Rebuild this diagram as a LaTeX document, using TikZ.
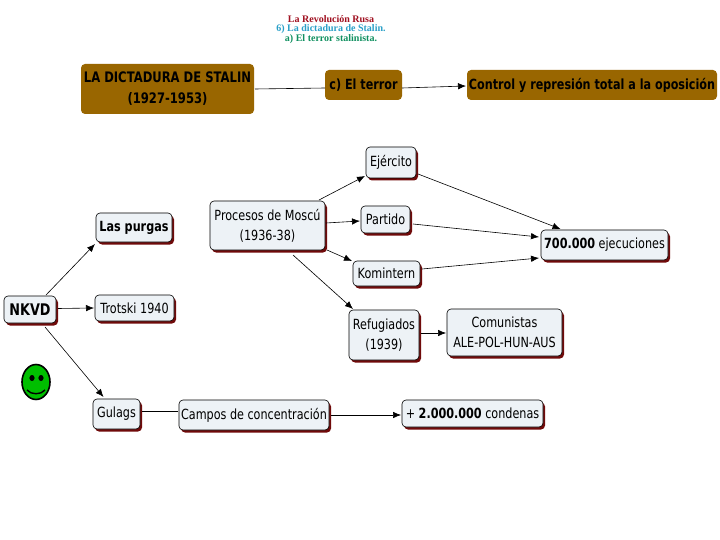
\documentclass[tikz,border=0pt]{standalone}
\usepackage{fontspec}
\setmainfont{Liberation Serif}
\newfontfamily\boxfont[FakeStretch=0.8]{DejaVu Sans}
\usetikzlibrary{shadows,arrows.meta,calc,shapes.geometric}
\definecolor{boxfill}{HTML}{EDF2F6}
\definecolor{shade}{HTML}{700A0A}
\definecolor{brown}{HTML}{996600}
\definecolor{t1}{HTML}{A01020}
\definecolor{t2}{HTML}{2AA0C8}
\definecolor{t3}{HTML}{109060}
\tikzset{
  x=1pt,y=-1pt,
  cbox/.style={draw=black,line width=0.6pt,fill=boxfill,rounded corners=4pt,align=center,
    font=\boxfont\fontsize{14}{20}\selectfont,inner sep=0pt,outer sep=0pt,
    general shadow={fill=shade,shadow xshift=2pt,shadow yshift=-2.5pt}},
  bbox/.style={fill=brown,rounded corners=4pt,align=center,text=black,
    font=\boxfont\bfseries\fontsize{14.5}{21}\selectfont,inner sep=0pt,outer sep=0pt},
  conn/.style={draw=black,line width=0.6pt},
  arr/.style={conn,-{Latex[length=8pt,width=6.5pt]}},
  ttl/.style={font=\bfseries\fontsize{10}{10}\selectfont,inner sep=0pt},
}
\newcommand{\pbox}[7]{% style name x1 y1 x2 y2 text
  \node[#1,minimum width=#5pt-#3pt,minimum height=#6pt-#4pt] (#2) at ({(#3+#5)/2},{(#4+#6)/2}) {#7};}
\begin{document}
\begin{tikzpicture}
\useasboundingbox (0,0) rectangle (720,540);
\fill[white] (0,0) rectangle (720,540);
\node[ttl,text=t1] (title1) at (331,19) {La Revolución Rusa};
\node[ttl,text=t2] (title2) at (331,29) {6) La dictadura de Stalin.};
\node[ttl,text=t3] (title3) at (331,39) {a) El terror stalinista.};
\pbox{bbox}{dict}{81}{64}{254}{114}{LA DICTADURA DE STALIN\\(1927-1953)}
\pbox{bbox}{terror}{325}{70}{402}{100}{\fontsize{14}{20}\selectfont c) El terror}
\pbox{bbox}{control}{467}{70}{717}{100}{\fontsize{14}{20}\selectfont Control y represión total a la oposición}
\pbox{cbox}{ejer}{366}{147}{416}{178}{Ejército}
\pbox{cbox}{part}{361}{206}{410}{233}{Partido}
\pbox{cbox}{proc}{210}{201}{325}{250}{Procesos de Moscú\\(1936-38)}
\pbox{cbox}{komi}{353}{261}{420}{286}{Komintern}
\pbox{cbox}{refu}{349}{310}{419}{360}{Refugiados\\(1939)}
\pbox{cbox}{ejec}{541}{230}{668}{260}{\textbf{700.000} ejecuciones}
\pbox{cbox}{comu}{447}{309}{562}{356}{Comunistas\\ALE-POL-HUN-AUS}
\pbox{cbox}{purg}{96}{213}{172}{242}{\textbf{Las purgas}}
\pbox{cbox}{nkvd}{4}{296}{56}{323}{\textbf{\fontsize{16}{19}\selectfont NKVD}}
\pbox{cbox}{trot}{95}{295}{174}{321}{Trotski 1940}
\pbox{cbox}{gula}{93}{399}{140}{429}{Gulags}
\pbox{cbox}{camp}{179}{400}{329}{430}{Campos de concentración}
\pbox{cbox}{cond}{402}{400}{543}{427}{+ \textbf{2.000.000} condenas}
% smiley
\node[draw=black,line width=1.6pt,fill=green!75!black,ellipse,minimum width=28pt,minimum height=35pt,inner sep=0pt] (smile) at (36,382) {};
\fill[black] (32,378) ellipse (2.6 and 3);
\fill[black] (41,378) ellipse (2.6 and 3);
\draw[black,line width=1.4pt] (27,390) .. controls (31,395) and (41,395) .. (45,390);
% connectors
\draw[conn] ($(dict.east)+(1,0)$) -- ($(terror.west)+(0,3)$);
\draw[arr] ($(terror.east)+(0,3)$) -- ($(control.west)+(-1,1)$);
\draw[arr] ($(nkvd.north)+(16,-1)$) -- ($(purg.south west)+(-1,2)$);
\draw[arr] ($(nkvd.east)+(2,-1)$) -- ($(trot.west)+(-1,0)$);
\draw[arr] ($(nkvd.south)+(15,4)$) -- ($(gula.north)+(-13,-2)$);
\draw[arr] ($(proc.north)+(51.5,-1)$) -- ($(ejer.west)+(-1,13.5)$);
\draw[arr] ($(proc.east)+(1,-2.5)$) -- ($(part.west)+(-1,1.5)$);
\draw[arr] ($(proc.south east)+(2,0)$) -- ($(komi.north west)+(-1,0)$);
\draw[arr] ($(proc.south)+(25.5,5)$) -- ($(refu.north)+(-31,-1)$);
\draw[arr] ($(ejer.east)+(2,11.5)$) -- ($(ejec.north)+(-44,-1)$);
\draw[arr] ($(part.east)+(3,4.5)$) -- ($(ejec.west)+(-2,-8)$);
\draw[arr] ($(komi.east)+(2,-4.5)$) -- ($(ejec.west)+(-2,13)$);
\draw[arr] ($(refu.east)+(2,-2)$) -- ($(comu.west)+(-1,0.5)$);
\draw[conn] ($(gula.east)+(2,-3)$) -- ($(camp.west)+(-1,-4)$);
\draw[arr] ($(camp.east)+(2,0)$) -- ($(cond.west)+(-1,1.5)$);
\end{tikzpicture}
\end{document}
